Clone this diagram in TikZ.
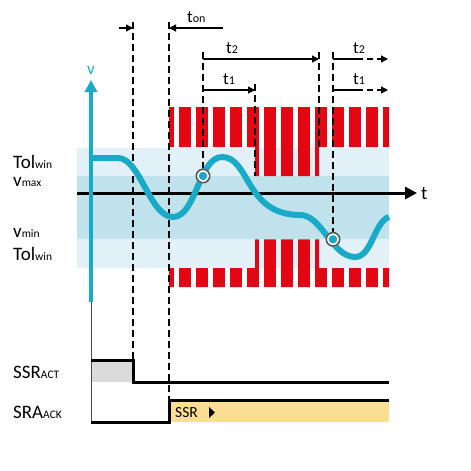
\documentclass[tikz,border=0pt]{standalone}
\usepackage{fontspec}
\setmainfont{Carlito}
\usetikzlibrary{arrows.meta}

\definecolor{sigblue}{RGB}{25,170,200}
\definecolor{bandlight}{RGB}{225,241,247}
\definecolor{banddark}{RGB}{192,226,236}
\definecolor{barred}{RGB}{227,6,19}
\definecolor{fillgrey}{RGB}{219,219,219}
\definecolor{fillyellow}{RGB}{250,222,145}
\definecolor{ringgrey}{RGB}{80,80,80}

\newcommand{\biglbl}[2]{{\fontsize{19}{22}\selectfont #1}{\fontsize{11.5}{13}\selectfont #2}}
\newcommand{\toplbl}[2]{{\fontsize{17}{20}\selectfont #1}{\fontsize{12}{14}\selectfont #2}}

\begin{document}
\begin{tikzpicture}[x=1pt,y=-1pt,
	every node/.style={inner sep=0pt},
	dimline/.style={line width=1.3pt,-{Triangle[length=7pt,width=7pt]}},
	guide/.style={line width=1.5pt,dash pattern=on 7pt off 4pt},
	sig/.style={line width=3pt}]
	\useasboundingbox(0,0)rectangle(471,471);

	% tolerance window
	\fill[bandlight](77,147.7)rectangle(389,267.7);
	\fill[banddark](77,176)rectangle(389,239.3);

	% red hatching
	\begin{scope}
		\clip(169,107)rectangle(389,147)(255,146)rectangle(319,176)(255,239.3)rectangle(319,269)(169,268)rectangle(389,287);
		\foreach \i in {0,...,13}
			\fill[barred](162+17*\i,100)rectangle(174+17*\i,290);
	\end{scope}

	% signal levels
	\fill[fillgrey](91,360)rectangle(133,382);
	\fill[fillyellow](169,400)rectangle(389,422);

	\coordinate(P)at(203,176);
	\coordinate(Q)at(333,239.3);

	% guides
	\draw[guide](133,22)--(133,360);
	\draw[guide](169,22)--(169,400);
	\draw[guide](203,52)--(P);
	\draw[guide](255,84)--(255,176);
	\draw[guide](319,52)--(319,147);
	\draw[guide](333,52)--(Q);

	% time spans
	\draw[dimline](119,28)--(133,28);
	\draw[dimline](223,28)--(169,28);
	\draw[dimline](203,59)--(319,59);
	\draw[dimline](203,90)--(255,90);
	\draw[line width=1.3pt](333,59)--(357,59);
	\draw[dimline,dash pattern=on 6pt off 4pt](357,59)--(388,59);
	\draw[line width=1.3pt](333,90)--(357,90);
	\draw[dimline,dash pattern=on 6pt off 4pt](357,90)--(388,90);

	\node[anchor=base west](ton)at(187,22){\toplbl{t}{on}};
	\node[anchor=base west](tB)at(226,53){\toplbl{t}{2}};
	\node[anchor=base west](tA)at(223,84){\toplbl{t}{1}};
	\node[anchor=base west](tBr)at(353,53){\toplbl{t}{2}};
	\node[anchor=base west](tAr)at(353,84){\toplbl{t}{1}};

	% axes
	\draw[line width=3pt,-{Triangle[length=12pt,width=12pt]}](77,193)--(417,193);
	\node[anchor=base west](t)at(421,199){\fontsize{19}{22}\selectfont t};
	\draw[black!70,line width=1pt](91,301)--(91,422);
	\draw[sigblue,line width=4pt,-{Triangle[length=12pt,width=12pt]}](91,302)--(91,80);
	\node[anchor=base,text=sigblue](v)at(91,74){\fontsize{17}{20}\selectfont v};

	% measured value
	\draw[sigblue,line width=6pt](91,158)--(118,158)..controls(140,158)and(150,217)..(173,217)..controls(196,217)and(199,157)..(222,157)..controls(250,157)and(245,215)..(300,215)..controls(322,215)and(332,257)..(355,257)..controls(372,257)and(374,222)..(389,217);

	\foreach \c in {P,Q}{
		\fill[white](\c)circle(7.5pt);
		\draw[ringgrey,line width=1.5pt](\c)circle(6.75pt);
		\fill[sigblue](\c)circle(4.2pt);
	}

	\node[anchor=base west](tolhi)at(13,168){\biglbl{Tol}{win}};
	\node[anchor=base west](vmax)at(13,186){\biglbl{v}{max}};
	\node[anchor=base west](vmin)at(13,237){\biglbl{v}{min}};
	\node[anchor=base west](tollo)at(13,260){\biglbl{Tol}{win}};

	% SSR signals
	\draw[sig](91,360)--(133,360)--(133,382)--(389,382);
	\draw[sig](91,422)--(169,422)--(169,400)--(389,400);
	\node[anchor=base west](act)at(13,378){\biglbl{SSR}{ACT}};
	\node[anchor=base west](ack)at(13,418){\biglbl{SRA}{ACK}};
	\node[anchor=base west](ssr)at(175,417.5){\fontsize{15.5}{18}\selectfont SSR};
	\fill(209,407)--(215,412.5)--(209,418)--cycle;
\end{tikzpicture}
\end{document}
